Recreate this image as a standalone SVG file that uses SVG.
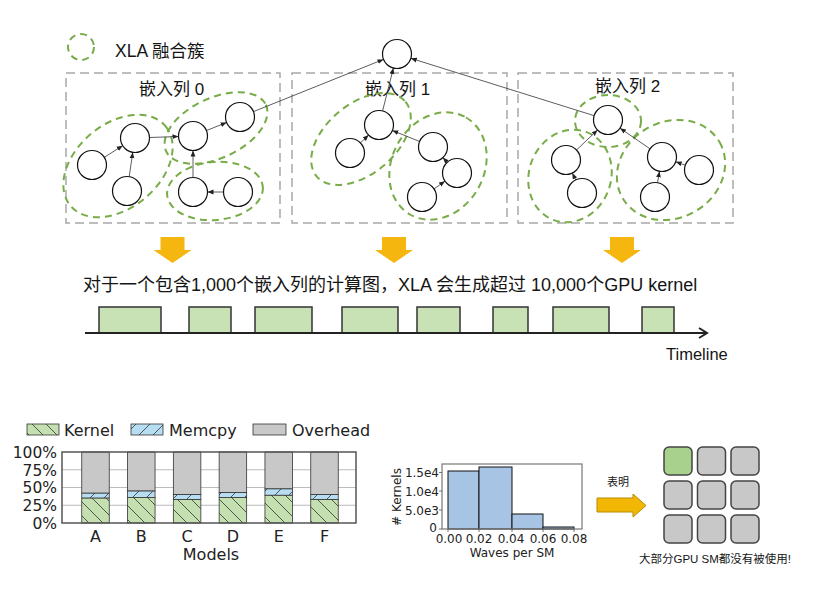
<svg xmlns="http://www.w3.org/2000/svg" width="814" height="600" viewBox="0 0 814 600">
<defs>
<style>
.t{font-family:"Liberation Sans","Noto Sans CJK SC",sans-serif;fill:#151515}
.m{font-family:"DejaVu Sans",sans-serif;fill:#222}
.box{fill:none;stroke:#A8A8A8;stroke-width:1.5;stroke-dasharray:9 5}
.cl{fill:none;stroke:#78AC48;stroke-width:2;stroke-dasharray:7 5}
.nd{fill:#fff;stroke:#111;stroke-width:1.2}
.e{stroke:#333;stroke-width:0.8;fill:none;marker-end:url(#ah)}
.ya{fill:#F4B60F}
.tb{fill:#C9E2B5;stroke:#333;stroke-width:1.5}
.sq{stroke:#444;stroke-width:1.5}
.bk{stroke:#333;stroke-width:0.8}
</style>
<marker id="ah" viewBox="0 0 10 10" refX="10" refY="5" markerWidth="6" markerHeight="6" markerUnits="userSpaceOnUse" orient="auto"><path d="M0,1 L10,5 L0,9 z" fill="#222"/></marker>
<pattern id="hk" patternUnits="userSpaceOnUse" width="14" height="14"><rect width="14" height="14" fill="#C5E0B0"/><path d="M-1,-1 L15,15 M-8,6 L8,22 M6,-8 L22,8" stroke="#333" stroke-width="0.8"/></pattern>
<pattern id="hm" patternUnits="userSpaceOnUse" width="14" height="14"><rect width="14" height="14" fill="#B7DDF2"/><path d="M-1,15 L15,-1 M-8,8 L8,-8 M6,22 L22,6" stroke="#333" stroke-width="0.8"/></pattern>
</defs>
<rect width="814" height="600" fill="#fff"/>

<g id="legend">
<ellipse class="cl" cx="81" cy="47" rx="13" ry="13"/>
<text class="t" x="115" y="56.5" font-size="17.5">XLA 融合簇</text>
</g>

<g id="col0">
<rect class="box" x="66" y="73" width="214" height="150"/>
<text class="t" x="139" y="95" font-size="17">嵌入列 0</text>
<ellipse class="cl" cx="118" cy="166" rx="62" ry="42" transform="rotate(-40 118 166)"/>
<ellipse class="cl" cx="216" cy="128" rx="55" ry="30" transform="rotate(-25 216 128)"/>
<ellipse class="cl" cx="215" cy="191" rx="48" ry="29" transform="rotate(-5 215 191)"/>
</g>
<g id="col1">
<rect class="box" x="292" y="73" width="215" height="150"/>
<text class="t" x="365" y="95" font-size="17">嵌入列 1</text>
<ellipse class="cl" cx="361" cy="139" rx="58" ry="35" transform="rotate(-40 361 139)"/>
<ellipse class="cl" cx="438" cy="166" rx="56" ry="46" transform="rotate(-60 438 166)"/>
</g>
<g id="col2">
<rect class="box" x="518" y="73" width="215" height="150"/>
<text class="t" x="595" y="92" font-size="17">嵌入列 2</text>
<ellipse class="cl" cx="608" cy="121" rx="33" ry="26"/>
<ellipse class="cl" cx="570" cy="176" rx="47" ry="41" transform="rotate(-70 570 176)"/>
<ellipse class="cl" cx="671" cy="170" rx="56" ry="48" transform="rotate(-30 671 170)"/>
</g>

<g id="edges">
<line class="e" x1="104.3" y1="157.3" x2="122.7" y2="145.7"/>
<line class="e" x1="129.2" y1="176.7" x2="132.8" y2="152.3"/>
<line class="e" x1="149.5" y1="137.5" x2="178.5" y2="136.5"/>
<line class="e" x1="206.4" y1="130.6" x2="226.6" y2="122.4"/>
<line class="e" x1="193" y1="177.5" x2="193" y2="150.5"/>
<line class="e" x1="223.5" y1="192" x2="207.5" y2="192"/>
<line class="e" x1="253.5" y1="111.6" x2="383.5" y2="59.4"/>
<line class="e" x1="360.4" y1="142.9" x2="368.6" y2="135.1"/>
<line class="e" x1="419.6" y1="141.5" x2="392.4" y2="130.5"/>
<line class="e" x1="448.5" y1="163.5" x2="442.8" y2="157.6"/>
<line class="e" x1="434" y1="188.8" x2="445" y2="181.2"/>
<line class="e" x1="382.6" y1="110.9" x2="393.4" y2="68.1"/>
<line class="e" x1="576.5" y1="150" x2="597.5" y2="130"/>
<line class="e" x1="650" y1="148.8" x2="620" y2="128.2"/>
<line class="e" x1="576" y1="180.5" x2="572.3" y2="173"/>
<line class="e" x1="685.3" y1="165.2" x2="675.7" y2="161.8"/>
<line class="e" x1="657.5" y1="182.7" x2="659.5" y2="171.3"/>
<line class="e" x1="594.2" y1="115.7" x2="410.8" y2="58.3"/>
</g>

<g id="nodes">
<circle id="top" class="nd" cx="397" cy="54" r="14.5"/>
<circle id="n1" class="nd" cx="92" cy="165" r="14.5"/>
<circle id="n2" class="nd" cx="135" cy="138" r="14.5"/>
<circle id="n3" class="nd" cx="127" cy="191" r="14.5"/>
<circle id="n4" class="nd" cx="193" cy="136" r="14.5"/>
<circle id="n5" class="nd" cx="240" cy="117" r="14.5"/>
<circle id="n6" class="nd" cx="193" cy="192" r="14.5"/>
<circle id="n7" class="nd" cx="238" cy="192" r="14.5"/>
<circle id="m1" class="nd" cx="379" cy="125" r="14.5"/>
<circle id="m2" class="nd" cx="350" cy="153" r="14.5"/>
<circle id="m3" class="nd" cx="433" cy="147" r="14.5"/>
<circle id="m4" class="nd" cx="457" cy="173" r="14.5"/>
<circle id="m5" class="nd" cx="422" cy="197" r="14.5"/>
<circle id="k1" class="nd" cx="608" cy="120" r="14.5"/>
<circle id="k2" class="nd" cx="566" cy="160" r="14.5"/>
<circle id="k3" class="nd" cx="582" cy="193" r="14.5"/>
<circle id="k4" class="nd" cx="662" cy="157" r="14.5"/>
<circle id="k5" class="nd" cx="699" cy="170" r="14.5"/>
<circle id="k6" class="nd" cx="655" cy="197" r="14.5"/>
</g>

<g id="down-arrows">
<polygon class="ya" points="160.5,237 184.5,237 184.5,250 191.5,250 172.5,263 153.5,250 160.5,250"/>
<polygon class="ya" points="382,237 406,237 406,250 413,250 394,263 375,250 382,250"/>
<polygon class="ya" points="610,237 634,237 634,250 641,250 622,263 603,250 610,250"/>
</g>
<text class="t" x="83" y="291" font-size="18">对于一个包含1,000个嵌入列的计算图，XLA 会生成超过 10,000个GPU kernel</text>

<g id="timeline">
<rect class="tb" x="99" y="307" width="62" height="26"/>
<rect class="tb" x="189" y="307" width="42" height="26"/>
<rect class="tb" x="255" y="307" width="57" height="26"/>
<rect class="tb" x="342" y="307" width="56" height="26"/>
<rect class="tb" x="417" y="307" width="43" height="26"/>
<rect class="tb" x="493" y="307" width="35" height="26"/>
<rect class="tb" x="553" y="307" width="56" height="26"/>
<rect class="tb" x="642" y="307" width="32" height="26"/>
<line x1="85" y1="333" x2="707" y2="333" stroke="#222" stroke-width="2"/>
<polyline points="699,328 707,333 699,338" fill="none" stroke="#222" stroke-width="2"/>
<text class="t" x="666" y="360" font-size="16.5">Timeline</text>
</g>

<g id="barchart">
<rect x="27" y="424" width="32" height="11" fill="url(#hk)" class="bk"/>
<text class="m" x="64" y="436" font-size="16">Kernel</text>
<rect x="131" y="424" width="32" height="11" fill="url(#hm)" class="bk"/>
<text class="m" x="169" y="436" font-size="16">Memcpy</text>
<rect x="253" y="424" width="33" height="11" fill="#C8C8C8" class="bk"/>
<text class="m" x="292" y="436" font-size="16">Overhead</text>
<g stroke="#BBB" stroke-width="1">
<line x1="62" y1="469.75" x2="356" y2="469.75"/>
<line x1="62" y1="487.5" x2="356" y2="487.5"/>
<line x1="62" y1="505.25" x2="356" y2="505.25"/>
</g>
<g class="bk">
<rect x="81.75" y="452" width="27.5" height="41.2" fill="#C8C8C8"/>
<rect x="81.75" y="493.2" width="27.5" height="4.95" fill="url(#hm)"/>
<rect x="81.75" y="498.15" width="27.5" height="24.85" fill="url(#hk)"/>
<rect x="127.55" y="452" width="27.5" height="39.05" fill="#C8C8C8"/>
<rect x="127.55" y="491.05" width="27.5" height="6.35" fill="url(#hm)"/>
<rect x="127.55" y="497.4" width="27.5" height="25.6" fill="url(#hk)"/>
<rect x="173.35" y="452" width="27.5" height="42.6" fill="#C8C8C8"/>
<rect x="173.35" y="494.6" width="27.5" height="5" fill="url(#hm)"/>
<rect x="173.35" y="499.6" width="27.5" height="23.4" fill="url(#hk)"/>
<rect x="219.15" y="452" width="27.5" height="40.5" fill="#C8C8C8"/>
<rect x="219.15" y="492.5" width="27.5" height="4.9" fill="url(#hm)"/>
<rect x="219.15" y="497.4" width="27.5" height="25.6" fill="url(#hk)"/>
<rect x="264.95" y="452" width="27.5" height="36.9" fill="#C8C8C8"/>
<rect x="264.95" y="488.9" width="27.5" height="6.4" fill="url(#hm)"/>
<rect x="264.95" y="495.3" width="27.5" height="27.7" fill="url(#hk)"/>
<rect x="310.75" y="452" width="27.5" height="42.6" fill="#C8C8C8"/>
<rect x="310.75" y="494.6" width="27.5" height="5" fill="url(#hm)"/>
<rect x="310.75" y="499.6" width="27.5" height="23.4" fill="url(#hk)"/>
</g>
<rect x="62" y="452" width="294" height="71" fill="none" stroke="#555" stroke-width="1.5"/>
<g class="m" font-size="15.5" text-anchor="end">
<text x="57" y="458">100%</text>
<text x="57" y="475.5">75%</text>
<text x="57" y="493.3">50%</text>
<text x="57" y="511">25%</text>
<text x="57" y="528.8">0%</text>
</g>
<g class="m" font-size="16" text-anchor="middle">
<text x="95.5" y="542">A</text>
<text x="141.3" y="542">B</text>
<text x="187.1" y="542">C</text>
<text x="232.9" y="542">D</text>
<text x="278.7" y="542">E</text>
<text x="324.5" y="542">F</text>
<text x="211" y="560">Models</text>
</g>
</g>

<g id="histogram">
<g fill="#A7C4E5" stroke="#111" stroke-width="1">
<rect x="448" y="471" width="31" height="58"/>
<rect x="479" y="467" width="33" height="62"/>
<rect x="512" y="514" width="31" height="15"/>
<rect x="543" y="527" width="31" height="2"/>
</g>
<rect x="442" y="464" width="140" height="65" fill="none" stroke="#777" stroke-width="1.2"/>
<g stroke="#555" stroke-width="0.8">
<line x1="448" y1="529" x2="448" y2="532"/><line x1="479" y1="529" x2="479" y2="532"/><line x1="512" y1="529" x2="512" y2="532"/><line x1="543" y1="529" x2="543" y2="532"/><line x1="574" y1="529" x2="574" y2="532"/>
<line x1="439" y1="529" x2="442" y2="529"/><line x1="439" y1="510" x2="442" y2="510"/><line x1="439" y1="491" x2="442" y2="491"/><line x1="439" y1="472.5" x2="442" y2="472.5"/>
</g>
<g class="m" font-size="12" text-anchor="end">
<text x="439" y="477">1.5e4</text>
<text x="439" y="496">1.0e4</text>
<text x="439" y="515">5.0e3</text>
<text x="437" y="532">0</text>
</g>
<g class="m" font-size="12" text-anchor="middle">
<text x="449" y="543">0.00</text>
<text x="479" y="543">0.02</text>
<text x="511" y="543">0.04</text>
<text x="543" y="543">0.06</text>
<text x="574" y="543">0.08</text>
<text x="512" y="557">Waves per SM</text>
<text x="0" y="0" transform="translate(401 497) rotate(-90)"># Kernels</text>
</g>
</g>

<g id="implies">
<text class="t" x="607" y="486" font-size="11">表明</text>
<polygon points="597,498 633,498 633,494 646,505.5 633,517 633,512 597,512" fill="#F2B705" stroke="#B88A00" stroke-width="1"/>
</g>

<g id="sm-grid">
<rect class="sq" x="664" y="447" width="28" height="28" rx="5" fill="#A9D18E"/>
<rect class="sq" x="697.5" y="447" width="28" height="28" rx="5" fill="#C8C8C8"/>
<rect class="sq" x="731" y="447" width="28" height="28" rx="5" fill="#C8C8C8"/>
<rect class="sq" x="664" y="481" width="28" height="28" rx="5" fill="#C8C8C8"/>
<rect class="sq" x="697.5" y="481" width="28" height="28" rx="5" fill="#C8C8C8"/>
<rect class="sq" x="731" y="481" width="28" height="28" rx="5" fill="#C8C8C8"/>
<rect class="sq" x="664" y="515" width="28" height="28" rx="5" fill="#C8C8C8"/>
<rect class="sq" x="697.5" y="515" width="28" height="28" rx="5" fill="#C8C8C8"/>
<rect class="sq" x="731" y="515" width="28" height="28" rx="5" fill="#C8C8C8"/>
<text class="t" x="639" y="563" font-size="11.5">大部分GPU SM都没有被使用!</text>
</g>
</svg>
